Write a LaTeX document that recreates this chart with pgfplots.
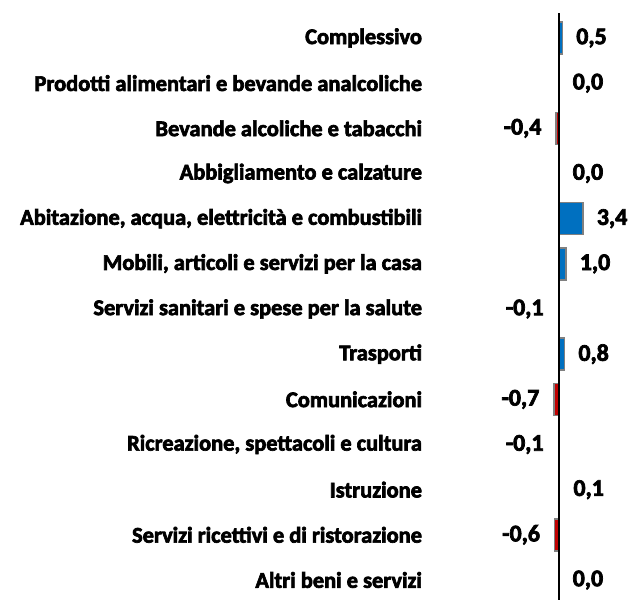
\documentclass[border=0pt]{standalone}
\usepackage{fontspec}
\setmainfont{Carlito}
\newfontfamily\lbl{Carlito}[BoldFeatures={FakeBold=3}]
\usepackage{pgfplots}
\pgfplotsset{compat=1.18}
\definecolor{barblue}{RGB}{0,112,192}
\definecolor{barred}{RGB}{192,0,0}
\definecolor{bargray}{RGB}{128,128,128}
\begin{document}
\begin{tikzpicture}
\path[use as bounding box] (-431.2bp,0bp) rectangle (196.8bp,600bp);
\begin{axis}[
  anchor=south west,
  width=198.8bp, height=587bp, scale only axis,
  xmin=-18, xmax=10,
  ymin=-0.553, ymax=12.443, y dir=reverse,
  hide x axis,
  axis y line*=left,
  y axis line style={draw=none},
  ytick={0,...,12},
  major tick length=0pt,
  yticklabels={Complessivo,Prodotti alimentari e bevande analcoliche,Bevande alcoliche e tabacchi,Abbigliamento e calzature,{Abitazione, acqua, elettricità e combustibili},{Mobili, articoli e servizi per la casa},Servizi sanitari e spese per la salute,Trasporti,Comunicazioni,{Ricreazione, spettacoli e cultura},Istruzione,Servizi ricettivi e di ristorazione,Altri beni e servizi},
  yticklabel style={font=\lbl\fontsize{22.5}{26}\selectfont\bfseries, anchor=east, inner sep=0pt, xshift=-9bp},
  xbar, bar width=0.71, bar shift=0pt,
  point meta=explicit symbolic,
  nodes near coords,
  clip=false,
]
\addplot[xbar, fill=barblue, draw=bargray, line width=1.5bp,
  every node near coord/.append style={anchor=west, inner sep=0pt, xshift=13bp, font=\lbl\fontsize{24}{28}\selectfont\bfseries, text=black}]
  coordinates {
  (0.5,0) [0,5]
  (0.0,1) [0,0]
  (0.0,3) [0,0]
  (3.4,4) [3,4]
  (1.0,5) [1,0]
  (0.8,7) [0,8]
  (0.1,10) [0,1]
  (0.0,12) [0,0]
  };
\addplot[xbar, fill=barred, draw=bargray, line width=1.5bp,
  every node near coord/.append style={anchor=east, inner sep=0pt, xshift=-14bp, font=\lbl\fontsize{24}{28}\selectfont\bfseries, text=black}]
  coordinates {
  (-0.4,2) [-0,4]
  (-0.1,6) [-0,1]
  (-0.7,8) [-0,7]
  (-0.1,9) [-0,1]
  (-0.6,11) [-0,6]
  };
\draw[black, line width=2bp] (axis cs:0,-0.553) -- (axis cs:0,12.443);
\end{axis}
\end{tikzpicture}
\end{document}
